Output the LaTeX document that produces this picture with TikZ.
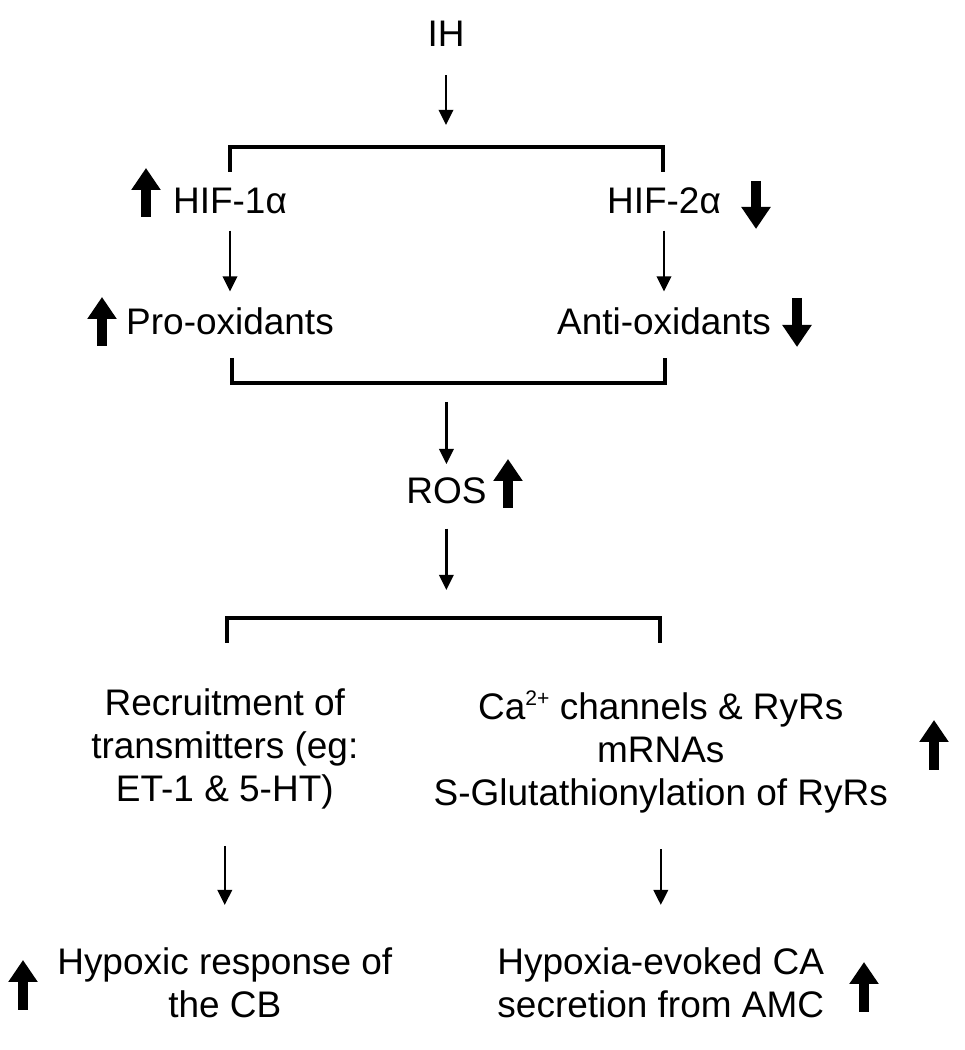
\documentclass[tikz,border=0pt]{standalone}
\usepackage{fontspec}
\setmainfont{Liberation Sans}
\usetikzlibrary{arrows.meta}

\begin{document}
\begin{tikzpicture}[
  txt/.style={inner sep=0pt, align=center, font=\fontsize{26.3}{30.6}\selectfont},
  flow/.style={line width=1.8pt, -{Triangle[width=0.36cm,length=0.38cm]}},
  bracket/.style={line width=2.9pt},
  rise/.style={line width=7pt, -{Triangle[width=0.7cm,length=0.55cm]}},
]
\useasboundingbox (0,0) rectangle (24.1,26.25);

% Top: IH and first split
\node[txt, anchor=base] (ih) at (11.15, 25.075) {IH};
\coordinate (split1) at (11.15, 22.575);
\draw[bracket] (5.75, 21.95) -- (5.75, 22.575) -- (16.575, 22.575) -- (16.575, 21.95);
\draw[flow, shorten <=0.7cm, shorten >=0.55cm] (ih) -- (split1);

% HIF branches
\node[txt, anchor=base] (hifa) at (5.75, 20.9) {HIF-1α};
\node[txt, anchor=base] (hifb) at (16.6, 20.9) {HIF-2α};
\draw[rise] (3.65, 20.825) -- (3.65, 22.05);
\draw[rise] (18.9, 21.725) -- (18.9, 20.525);

% Oxidants
\node[txt, anchor=base] (pro) at (5.75, 17.875) {Pro-oxidants};
\node[txt, anchor=base] (anti) at (16.6, 17.875) {Anti-oxidants};
\draw[rise] (2.55, 17.6) -- (2.55, 18.825);
\draw[rise] (19.925, 18.8) -- (19.925, 17.575);
\draw[flow, shorten <=0.4cm, shorten >=0.41cm] (hifa) -- (pro);
\draw[flow, shorten <=0.4cm, shorten >=0.41cm] (hifb) -- (anti);

% Merge into ROS
\coordinate (merge2) at (11.16, 16.675);
\draw[bracket] (5.8, 17.3) -- (5.8, 16.675) -- (16.625, 16.675) -- (16.625, 17.3);
\node[txt, anchor=base] (ros) at (11.16, 13.65) {ROS};
\draw[rise] (12.7, 13.55) -- (12.7, 14.775);
\draw[flow, shorten <=0.475cm, shorten >=0.345cm] (merge2) -- (ros);

% Second split
\coordinate (split3) at (11.16, 10.8);
\draw[bracket] (5.675, 10.175) -- (5.675, 10.8) -- (16.5, 10.8) -- (16.5, 10.175);
\draw[flow, shorten <=0.6cm, shorten >=0.7cm] (ros) -- (split3);

% Mechanisms
\node[txt, anchor=north] (recruit) at (5.62, 9.03)
  {Recruitment of\\transmitters (eg:\\ET-1 \& 5-HT)};
\node[txt, anchor=north] (ryr) at (16.52, 9.0)
  {Ca\raisebox{0.39em}{\fontsize{15}{15}\selectfont 2+} channels \& RyRs\\mRNAs\\S-Glutathionylation of RyRs};
\draw[rise] (23.35, 7.0) -- (23.35, 8.25);

% Outcomes
\node[txt, anchor=north] (cb) at (5.62, 2.575) {Hypoxic response of\\the CB};
\node[txt, anchor=north] (amc) at (16.52, 2.575) {Hypoxia-evoked CA\\secretion from AMC};
\draw[rise] (0.575, 1.0) -- (0.575, 2.25);
\draw[rise] (21.6, 0.95) -- (21.6, 2.2);
\draw[flow, shorten <=0.9cm, shorten >=1.05cm] (recruit) -- (cb);
\draw[flow, shorten <=0.9cm, shorten >=1.05cm] (ryr) -- (amc);

\end{tikzpicture}
\end{document}
